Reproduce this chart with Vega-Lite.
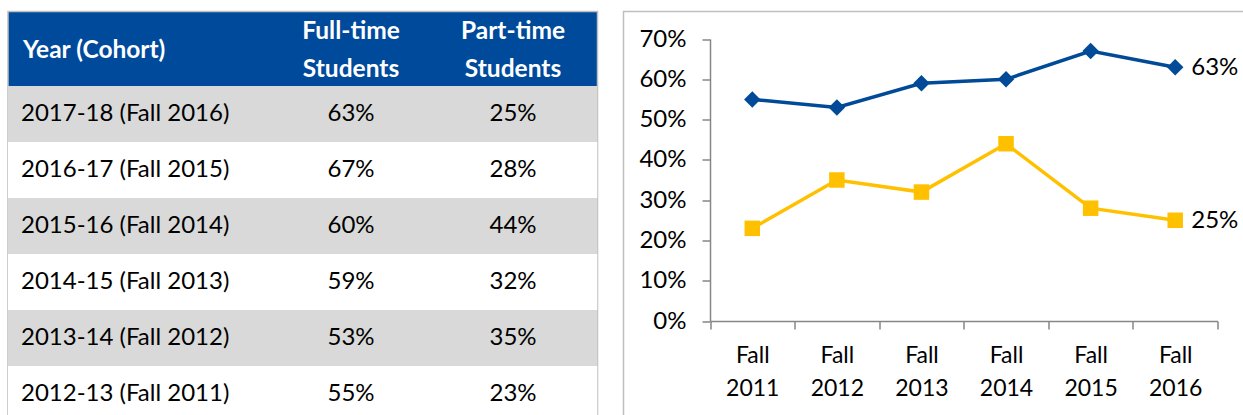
{
  "$schema": "https://vega.github.io/schema/vega-lite/v6.json",
  "padding": {"left": 7, "top": 10.5, "right": 0, "bottom": 0},
  "spacing": 25.5,
  "bounds": "flush",
  "resolve": {"scale": {"color": "independent", "shape": "independent", "size": "independent"}},
  "config": {"font": "Lato", "view": {"stroke": null}},
  "datasets": {
    "rates": [
      {"cohort": "2017-18 (Fall 2016)", "term": "Fall 2016", "fullTime": 0.63, "partTime": 0.25},
      {"cohort": "2016-17 (Fall 2015)", "term": "Fall 2015", "fullTime": 0.67, "partTime": 0.28},
      {"cohort": "2015-16 (Fall 2014)", "term": "Fall 2014", "fullTime": 0.60, "partTime": 0.44},
      {"cohort": "2014-15 (Fall 2013)", "term": "Fall 2013", "fullTime": 0.59, "partTime": 0.32},
      {"cohort": "2013-14 (Fall 2012)", "term": "Fall 2012", "fullTime": 0.53, "partTime": 0.35},
      {"cohort": "2012-13 (Fall 2011)", "term": "Fall 2011", "fullTime": 0.55, "partTime": 0.23}
    ]
  },
  "hconcat": [
    {
      "width": 589.5,
      "height": 403.5,
      "view": {"fill": "#004A9C", "stroke": "#BFBFBF", "strokeWidth": 1.5, "strokeDash": [993, 589.5, 403.5, 20]},
      "data": {"name": "rates"},
      "encoding": {
        "y": {
          "field": "cohort", "type": "nominal", "axis": null,
          "scale": {"type": "band", "domain": ["2017-18 (Fall 2016)", "2016-17 (Fall 2015)", "2015-16 (Fall 2014)", "2014-15 (Fall 2013)", "2013-14 (Fall 2012)", "2012-13 (Fall 2011)"], "range": [74.5, 410.5], "paddingInner": 0, "paddingOuter": 0}
        }
      },
      "layer": [
        {
          "mark": {"type": "rect", "clip": true},
          "encoding": {
            "color": {
              "field": "cohort", "type": "nominal", "legend": null,
              "scale": {"domain": ["2017-18 (Fall 2016)", "2016-17 (Fall 2015)", "2015-16 (Fall 2014)", "2014-15 (Fall 2013)", "2013-14 (Fall 2012)", "2012-13 (Fall 2011)"], "range": ["#D9D9D9", "#FFFFFF", "#D9D9D9", "#FFFFFF", "#D9D9D9", "#FFFFFF"]}
            }
          }
        },
        {
          "mark": {"type": "text", "align": "left", "baseline": "middle", "dx": -87, "fontSize": 24, "color": "#000000"},
          "encoding": {
            "x": {
              "datum": "Year (Cohort)", "type": "nominal", "bandPosition": 0,
              "scale": {"type": "band", "domain": ["Year (Cohort)", "Full-time Students", "Part-time Students"], "range": [100, 586], "paddingInner": 0, "paddingOuter": 0},
              "axis": {
                "orient": "top", "offset": -38.5, "domain": false, "ticks": false, "tickSize": 0,
                "labelPadding": {"condition": {"test": "datum.value === 'Year (Cohort)'", "value": 0}, "value": 19},
                "title": null, "labelAngle": 0, "labelBaseline": "middle", "labelColor": "#FFFFFF", "labelFontWeight": "bold",
                "labelFontSize": 24.5, "labelLineHeight": 38, "labelLimit": 0, "labelFlush": false, "labelBound": false, "labelOverlap": false,
                "labelAlign": {"condition": {"test": "datum.value === 'Year (Cohort)'", "value": "left"}, "value": "center"},
                "labelOffset": {"condition": {"test": "datum.value === 'Year (Cohort)'", "value": -166}, "value": 0},
                "labelExpr": "datum.value === 'Year (Cohort)' ? datum.value : split(datum.value, ' ')"
              }
            },
            "text": {"field": "cohort", "type": "nominal"}
          }
        },
        {
          "mark": {"type": "text", "align": "center", "baseline": "middle", "fontSize": 24, "color": "#000000"},
          "encoding": {
            "x": {"datum": "Full-time Students", "type": "nominal"},
            "text": {"field": "fullTime", "type": "quantitative", "format": ".0%"}
          }
        },
        {
          "mark": {"type": "text", "align": "center", "baseline": "middle", "fontSize": 24, "color": "#000000"},
          "encoding": {
            "x": {"datum": "Part-time Students", "type": "nominal"},
            "text": {"field": "partTime", "type": "quantitative", "format": ".0%"}
          }
        }
      ]
    },
    {
      "width": 620,
      "height": 403.5,
      "view": {"fill": "#FFFFFF", "stroke": "#BFBFBF", "strokeWidth": 1.5, "strokeDash": [620, 1023.5, 403.5, 20]},
      "data": {"name": "rates"},
      "transform": [{"fold": ["fullTime", "partTime"], "as": ["series", "rate"]}],
      "encoding": {
        "x": {
          "field": "term", "type": "nominal",
          "scale": {"type": "band", "domain": ["Fall 2011", "Fall 2012", "Fall 2013", "Fall 2014", "Fall 2015", "Fall 2016"], "range": [86.5, 594], "paddingInner": 0, "paddingOuter": 0},
          "axis": {
            "orient": "bottom", "offset": -94, "title": null, "labelAngle": 0, "tickBand": "extent",
            "domainColor": "#868686", "domainWidth": 1.5, "tickColor": "#868686", "tickWidth": 1.5, "tickSize": 8,
            "labelFontSize": 23, "labelColor": "#000000", "labelPadding": 15, "labelLineHeight": 33,
            "labelExpr": "datum.value ? split(datum.value, ' ') : ''", "labelBaseline": "top", "labelFlush": false, "labelBound": false
          }
        },
        "y": {
          "field": "rate", "type": "quantitative",
          "scale": {"domain": [0, 0.7], "range": [309.5, 27.5], "nice": false, "zero": true},
          "axis": {
            "orient": "left", "offset": -86.5, "title": null, "grid": false, "values": [0, 0.1, 0.2, 0.3, 0.4, 0.5, 0.6, 0.7], "format": ".0%",
            "domainColor": "#868686", "domainWidth": 1.5, "tickColor": "#868686", "tickWidth": 1.5, "tickSize": 8,
            "labelFontSize": 24, "labelColor": "#000000", "labelPadding": 16, "labelFlush": false, "labelBound": false
          }
        },
        "color": {
          "field": "series", "type": "nominal", "legend": null,
          "scale": {"domain": ["fullTime", "partTime"], "range": ["#004A98", "#FFC000"]}
        }
      },
      "layer": [
        {"mark": {"type": "line", "strokeWidth": 3.5}},
        {
          "mark": {"type": "point", "filled": true, "opacity": 1},
          "encoding": {
            "shape": {"field": "series", "type": "nominal", "legend": null, "scale": {"domain": ["fullTime", "partTime"], "range": ["diamond", "square"]}},
            "size": {"field": "series", "type": "nominal", "legend": null, "scale": {"domain": ["fullTime", "partTime"], "range": [270, 240]}}
          }
        },
        {
          "transform": [{"filter": "datum.term === 'Fall 2016'"}],
          "mark": {"type": "text", "align": "left", "baseline": "middle", "dx": 16, "dy": 1, "fontSize": 24, "color": "#000000"},
          "encoding": {
            "text": {"field": "rate", "type": "quantitative", "format": ".0%"},
            "color": {"value": "#000000"}
          }
        }
      ]
    }
  ]
}
